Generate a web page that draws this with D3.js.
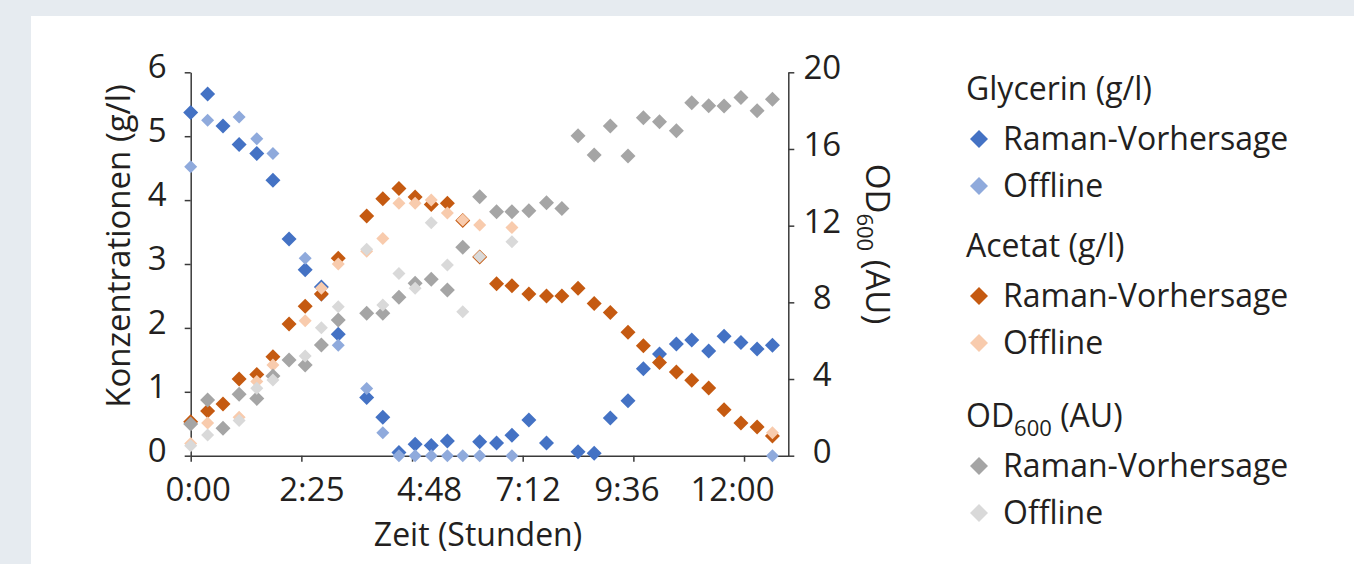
<!DOCTYPE html>
<html>
<head>
<meta charset="utf-8">
<script src="https://cdn.jsdelivr.net/npm/d3@7"></script>
<style>
  html, body { margin: 0; padding: 0; background: #e6ebf0; }
  svg { display: block; }
  text { font-family: "Open Sans", "Noto Sans", sans-serif; fill: #231f20; }
</style>
</head>
<body>
<div id="chart"></div>
<script>
// Raman measurements, minutes after start
var ramanTime = [0, 22, 42, 63, 86, 107, 128, 149, 170, 192, 229, 250, 271, 292, 313, 334, 354, 376,
                 398, 418, 440, 463, 483, 504, 525, 546, 569, 589, 610, 632, 652, 674, 694, 716, 737, 757];
var glycerinRaman = [5.37, 5.66, 5.16, 4.87, 4.73, 4.31, 3.39, 2.91, 2.64, 1.90, 0.91, 0.60, 0.05, 0.18, 0.16, 0.23, null, 0.22,
                     0.20, 0.32, 0.56, 0.20, null, 0.06, 0.04, 0.59, 0.86, 1.36, 1.59, 1.75, 1.81, 1.64, 1.87, 1.77, 1.67, 1.73];
var acetatRaman = [0.53, 0.70, 0.81, 1.20, 1.27, 1.55, 2.06, 2.34, 2.53, 3.09, 3.75, 4.02, 4.18, 4.05, 3.93, 3.95, 3.68, 3.11,
                   2.69, 2.66, 2.53, 2.50, 2.50, 2.62, 2.38, 2.24, 1.93, 1.72, 1.46, 1.31, 1.18, 1.06, 0.72, 0.51, 0.45, 0.31];
var odRaman = [1.65, 2.91, 1.43, 3.20, 2.99, 4.16, 4.99, 4.73, 5.77, 7.08, 7.43, 7.43, 8.26, 9.0, 9.2, 8.64, 10.87, 13.51,
               12.73, 12.73, 12.78, 13.2, 12.9, 16.69, 15.69, 17.2, 15.63, 17.63, 17.42, 16.95, 18.41, 18.26, 18.24, 18.69, 18.0, 18.6];

// offline samples
var offlineTime = [0, 22, 63, 86, 107, 149, 170, 192, 229, 250, 271, 292, 313, 334, 354, 376, 418, 757];
var glycerinOffline = [4.52, 5.25, 5.30, 4.96, 4.73, 3.09, 2.51, 1.73, 1.05, 0.36, 0, 0, 0, 0, 0, 0, 0, 0];
var acetatOffline = [0.19, 0.51, 0.60, 1.16, 1.42, 2.11, 2.62, 3.00, 3.20, 3.40, 3.95, 3.95, 4.00, 3.80, 3.69, 3.61, 3.57, 0.36];
var odOffline = [0.52, 1.08, 1.83, 3.52, 3.95, 5.2, 6.68, 7.77, 10.77, 7.86, 9.51, 8.73, 12.15, 9.95, 7.51, 10.38, 11.16, null];

var xTicks = [0, 144, 288, 432, 576, 720];
var xTickLabels = ['0:00', '2:25', '4:48', '7:12', '9:36', '12:00'];
var leftTicks = [0, 1, 2, 3, 4, 5, 6];
var rightTicks = [0, 4, 8, 12, 16, 20];

var width = 1354, height = 564;
var xLabelNudge = [7, 10, 17, 5, -7, -12];

var svg = d3.select('#chart').append('svg')
    .attr('width', width)
    .attr('height', height);

svg.append('rect').attr('width', width).attr('height', height).attr('fill', '#e6ebf0');
svg.append('rect').attr('x', 31).attr('y', 16).attr('width', width - 31).attr('height', height - 16).attr('fill', '#ffffff');

var x = d3.scaleLinear().domain([0, 777.6]).range([190.7, 788.3]),
    yL = d3.scaleLinear().domain([0, 6]).range([455.7, 72.3]),
    yR = d3.scaleLinear().domain([0, 20]).range([455.7, 72.3]);

var axisColor = '#3a3a3a';

// x axis
var gx = svg.append('g')
    .attr('transform', 'translate(0,' + yL(0) + ')')
    .call(d3.axisBottom(x).tickValues(xTicks).tickSize(6).tickSizeOuter(0)
        .tickFormat(function(d, i){ return xTickLabels[i]; }));
gx.selectAll('text')
    .attr('font-size', '33px')
    .attr('y', 45)
    .attr('dy', 0)
    .attr('dx', function(d, i){ return xLabelNudge[i]; });

// left axis
var gl = svg.append('g')
    .attr('transform', 'translate(' + x(0) + ',0)')
    .call(d3.axisLeft(yL).tickValues(leftTicks).tickSize(6).tickSizeOuter(0).tickFormat(d3.format('d')));
gl.selectAll('text')
    .attr('font-size', '33px')
    .attr('x', -24)
    .attr('dy', '0.32em')
    .attr('transform', 'translate(0,-5)');

// right axis
var gr = svg.append('g')
    .attr('transform', 'translate(' + x(777.6) + ',0)')
    .call(d3.axisRight(yR).tickValues(rightTicks).tickSize(6).tickSizeOuter(0).tickFormat(d3.format('d')));
gr.selectAll('text')
    .attr('font-size', '33px')
    .attr('text-anchor', 'middle')
    .attr('x', 34)
    .attr('dy', '0.32em')
    .attr('transform', 'translate(0,-4)');

svg.selectAll('.domain, .tick line')
    .attr('stroke', axisColor)
    .attr('stroke-width', 1.5);
svg.selectAll('.tick text').attr('fill', '#231f20').style('font-family', '"Open Sans", sans-serif');

// axis titles
svg.append('text')
    .attr('transform', 'translate(130,246) rotate(-90)')
    .attr('text-anchor', 'middle')
    .attr('font-size', '33px')
    .text('Konzentrationen (g/l)');

var rt = svg.append('text')
    .attr('transform', 'translate(866,244) rotate(90)')
    .attr('text-anchor', 'middle')
    .attr('font-size', '33px');
rt.append('tspan').text('OD');
rt.append('tspan').attr('font-size', '22px').attr('dy', 9).text('600');
rt.append('tspan').attr('dy', -9).text(' (AU)');

svg.append('text')
    .attr('x', 478)
    .attr('y', 546)
    .attr('text-anchor', 'middle')
    .attr('font-size', '32px')
    .text('Zeit (Stunden)');

// diamond markers
var diamond = function(r){
    return 'M0,' + (-r) + 'L' + r + ',0L0,' + r + 'L' + (-r) + ',0Z';
};

var series = [
    {t: ramanTime, v: glycerinRaman, y: yL, color: '#4472c4', r: 7.5},
    {t: offlineTime, v: glycerinOffline, y: yL, color: '#8faadc', r: 6.5},
    {t: ramanTime, v: acetatRaman, y: yL, color: '#c55a11', r: 7.5},
    {t: offlineTime, v: acetatOffline, y: yL, color: '#f8cbad', r: 6.5},
    {t: ramanTime, v: odRaman, y: yR, color: '#a5a5a5', r: 7.5},
    {t: offlineTime, v: odOffline, y: yR, color: '#d9d9d9', r: 6.5}
];

series.forEach(function(s){
    var pts = s.t.map(function(t, i){ return {t: t, v: s.v[i]}; })
        .filter(function(d){ return d.v !== null; });
    svg.append('g').selectAll('path').data(pts).enter()
        .append('path')
        .attr('d', diamond(s.r))
        .attr('transform', function(d){ return 'translate(' + x(d.t) + ',' + s.y(d.v) + ')'; })
        .attr('fill', s.color);
});

// legend
var legendGroups = [
    {title: 'Glycerin (g/l)', colors: ['#4472c4', '#8faadc'], y: 100},
    {title: 'Acetat (g/l)', colors: ['#c55a11', '#f8cbad'], y: 257},
    {title: 'OD', sub: '600', after: ' (AU)', colors: ['#a5a5a5', '#d9d9d9'], y: 427}
];
var legendItems = ['Raman-Vorhersage', 'Offline'];

var lg = svg.append('g');
legendGroups.forEach(function(g){
    var t = lg.append('text').attr('x', 966).attr('y', g.y).attr('font-size', '32px');
    if (g.sub) {
        t.append('tspan').text(g.title);
        t.append('tspan').attr('font-size', '22px').attr('dy', 9).text(g.sub);
        t.append('tspan').attr('dy', -9).text(g.after);
    } else {
        t.text(g.title);
    }
    legendItems.forEach(function(name, i){
        var by = g.y + 50 + i * 47;
        lg.append('path')
            .attr('d', diamond(9))
            .attr('transform', 'translate(979,' + (by - 11) + ')')
            .attr('fill', g.colors[i]);
        lg.append('text')
            .attr('x', 1003)
            .attr('y', by)
            .attr('font-size', '32px')
            .text(name);
    });
});
</script>
</body>
</html>
